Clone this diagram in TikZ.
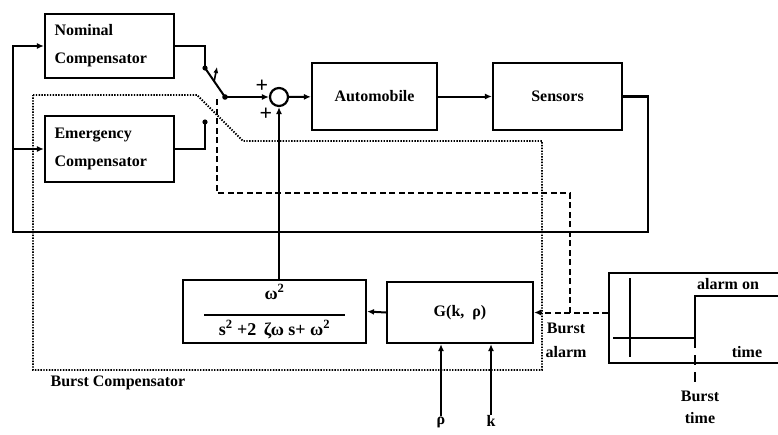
\documentclass[tikz,border=0pt]{standalone}
\usepackage{fontspec}
\setmainfont{Liberation Serif}
\usetikzlibrary{arrows.meta,calc}

\begin{document}
\begin{tikzpicture}[
  x=1pt, y=-1pt,
  font=\fontsize{16}{20}\selectfont\bfseries,
  box/.style={draw, line width=2.2pt, inner sep=0pt, align=center},
  comp/.style={box, align=left, text width=110pt, inner xsep=9.5pt, minimum height=64pt,
    font=\fontsize{16}{28}\selectfont\bfseries},
  sig/.style={line width=2pt},
  arrow/.style={sig, -{Latex[length=7pt,width=6pt]}},
  fbline/.style={line width=2.6pt},
  alarmline/.style={line width=2pt, dash pattern=on 6pt off 3.5pt},
  bound/.style={line width=1.8pt, dash pattern=on 1.4pt off 1.4pt},
  label/.style={inner sep=0pt, align=center}
]
\useasboundingbox (0,0) rectangle (778,434);
\clip (0,0) rectangle (778,434);

% plant loop
\node[comp] (nominal) at (109.5,46) {Nominal\\Compensator};
\node[comp, minimum height=66pt] (emergency) at (109.5,149) {Emergency\\Compensator};
\node[draw, circle, line width=2.2pt, minimum size=18pt, inner sep=0pt] (sum) at (279,97) {};
\node[box, minimum width=125pt, minimum height=67pt] (auto) at (374.5,96.5) {Automobile};
\node[box, minimum width=129pt, minimum height=67pt] (sensors) at (557.5,96.5) {Sensors};
\node[label, font=\fontsize{22}{22}\selectfont\bfseries] (plusA) at (262,86) {+};
\node[label, font=\fontsize{22}{22}\selectfont\bfseries] (plusB) at (266,114) {+};

% burst compensator
\node[box, minimum width=183pt, minimum height=63pt, font=\fontsize{18}{20}\selectfont\bfseries] (tf) at (274.5,311.5)
  {ω\textsuperscript{2}\\[-3pt]\rule{141pt}{2.4pt}\\[-1pt]s\textsuperscript{2} +2 \,ζω s+ ω\textsuperscript{2}};
\node[box, minimum width=146pt, minimum height=61pt] (G) at (460,312.5) {G(k,\ \ ρ)};
\node[label] (rho) at (441,422) {ρ};
\node[label] (k) at (491,421) {k};
\node[label, font=\fontsize{16}{24}\selectfont\bfseries] (balarm) at (566,340) {Burst\\alarm};
\node[label] (bclabel) at (118,383) {Burst Compensator};

% alarm signal
\node[draw, line width=2pt, minimum width=180pt, minimum height=90pt, inner sep=0pt,
  anchor=north west] (alarm) at (608,272) {};
\node[label] (alarmon) at (728,284) {alarm on};
\node[label] (timelbl) at (747,352) {time};
\node[label, font=\fontsize{16}{22}\selectfont\bfseries] (bursttime) at (700,407) {Burst\\time};

\coordinate (ax0) at (630,278);
\coordinate (ax1) at (630,357);
\coordinate (bl0) at (613,338);
\coordinate (stepc) at (695,338);
\coordinate (hi) at (782,296);
\coordinate (btend) at (695,387);

% switch
\coordinate (nomc) at (205,68);
\coordinate (emc) at (205,122);
\coordinate (pivot) at (225,97);
\coordinate (swarr0) at (214,82);
\coordinate (swarr1) at (217,67);
\coordinate (swbase) at (217,193);
\coordinate (tap) at (570,312.5);

% feedback
\coordinate (fbR) at (648,232);
\coordinate (fbL) at (13,232);

% boundary of burst compensator
\coordinate (b1) at (33,95);
\coordinate (b2) at (197,95);
\coordinate (b3) at (243,141);
\coordinate (b4) at (542,141);
\coordinate (b5) at (542,370);
\coordinate (b6) at (33,370);
\draw[bound] (b1) -- (b2) -- (b3) -- (b4) -- (b5) -- (b6) -- cycle;

\draw[fbline, -{Latex[length=7pt,width=6pt]}] (sensors.east) -| (fbR) -- (fbL) |- (nominal.west);
\draw[arrow] (fbL |- emergency.west) -- (emergency.west);

\draw[sig] (nominal.east) -| (nomc);
\draw[sig] (emergency.east) -| (emc);
\fill (nomc) circle (2.6pt);
\fill (emc) circle (2.6pt);
\fill (pivot) circle (2.8pt);
\draw[sig] (pivot) -- (nomc);
\draw[line width=1.6pt, -{Latex[length=6pt,width=5pt]}] (swarr0) -- (swarr1);

\draw[arrow] (pivot) -- (sum.west);
\draw[arrow] (sum) -- (auto);
\draw[arrow] (auto) -- (sensors);
\draw[arrow] (sum.south |- tf.north) -- (sum.south);

\draw[arrow] (G.west) -- (tf.east);
\draw[arrow] (rho.north) -- (rho.north |- G.south);
\draw[arrow] (k.north) -- (k.north |- G.south);

\draw[alarmline, -{Latex[length=7pt,width=6pt]}] (alarm.west |- G.east) -- (G.east);
\draw[alarmline] (tap) |- (swbase) -- (swbase |- pivot);

\draw[sig] (ax0) -- (ax1);
\draw[sig] (bl0) -- (stepc) |- (hi);
\draw[line width=1.6pt, dash pattern=on 10pt off 7pt] (stepc) -- (btend);

\end{tikzpicture}
\end{document}
